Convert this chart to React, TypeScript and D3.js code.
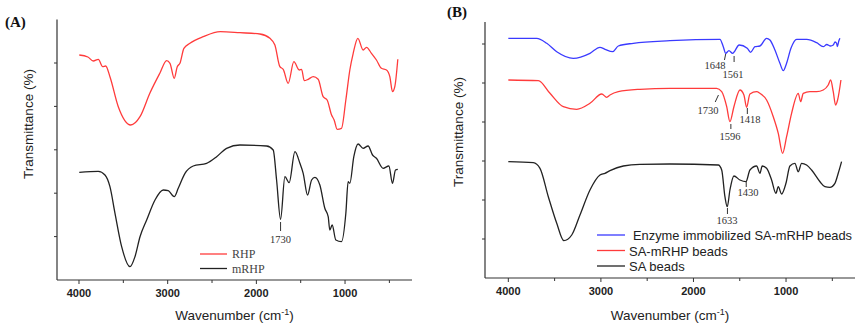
import React from "react";
import * as d3 from "d3";

// ---------- Panel A data (wavenumber, relative transmittance) ----------
const rhpWn = [3997, 3900, 3839, 3782, 3733, 3699, 3651, 3557, 3417, 3312, 3200, 3087, 3012, 2974, 2926, 2892, 2862, 2817, 2749, 2599, 2406, 2185, 1960, 1847, 1791, 1735, 1697, 1641, 1577, 1517, 1490, 1460, 1416, 1359, 1303, 1247, 1202, 1152, 1123, 1089, 1040, 991, 946, 908, 856, 796, 758, 702, 646, 590, 533, 495, 465, 439, 405];
const rhpT = [225, 223, 219, 220.7, 213.3, 214, 203.3, 173.3, 155, 163.3, 187, 207, 219.3, 216.7, 201.7, 213.3, 216.7, 231.7, 236.7, 243.3, 248.3, 247.3, 246, 241.7, 235, 213.3, 210.7, 196.7, 218.3, 210, 210.7, 199.3, 200.7, 203.3, 200.7, 183.3, 180, 165, 160, 150.7, 151.7, 180, 210, 226.7, 241.7, 230, 232.7, 226.7, 220, 211.7, 210, 203.3, 188.3, 193.3, 220.7];

const mrhpWn = [3997, 3782, 3707, 3651, 3594, 3519, 3425, 3369, 3312, 3237, 3143, 3050, 2994, 2926, 2881, 2805, 2712, 2561, 2448, 2336, 2185, 1885, 1810, 1772, 1727, 1678, 1630, 1565, 1509, 1472, 1423, 1377, 1340, 1284, 1228, 1190, 1172, 1145, 1104, 1040, 991, 965, 946, 901, 853, 796, 740, 690, 646, 570, 506, 465, 431, 405];
const mrhpT = [107.7, 108.7, 105, 93.3, 66.7, 33.3, 13.3, 23.3, 43.3, 60, 80, 90, 89.3, 83.3, 91.7, 106.7, 114, 116.7, 123.3, 131.7, 135, 134, 130, 100, 60.7, 103.3, 97.3, 128.3, 116.7, 106.7, 85, 100, 102.7, 95, 71.7, 63.3, 50, 55, 40, 38.3, 66.7, 98.3, 96.7, 123.3, 136, 131.7, 134, 125, 121.7, 111.7, 114, 96.7, 110, 110.7];

// ---------- Panel B data ----------
const enzWn = [4000, 3693, 3585, 3477, 3298, 3118, 3010, 2956, 2873, 2812, 2650, 2254, 1714, 1678, 1652, 1617, 1577, 1506, 1419, 1383, 1336, 1282, 1210, 1174, 1120, 1066, 1030, 994, 947, 885, 777, 669, 598, 560, 520, 490, 470, 454, 445, 430, 418];
const enzT = [239.7, 239.7, 234.7, 226.3, 219.7, 224.7, 230.7, 228.7, 226.3, 232, 234.7, 237.3, 238.7, 231.3, 224.7, 227.3, 224.7, 233, 229.7, 225.7, 231.3, 232, 239.7, 238, 228, 214.7, 207.3, 214.7, 229.7, 238.7, 238.7, 235.3, 231.3, 233.5, 232, 233, 236, 234.7, 231.5, 237, 239.7];

const samWn = [4000, 3676, 3550, 3406, 3261, 3118, 2991, 2937, 2902, 2812, 2578, 2254, 1750, 1695, 1641, 1606, 1563, 1498, 1455, 1426, 1390, 1318, 1282, 1210, 1138, 1084, 1037, 994, 940, 868, 842, 814, 742, 669, 598, 544, 518, 490, 465, 443, 407];
const samT = [198, 197.3, 184.7, 171.3, 168.7, 174.7, 184, 180.7, 183, 186.3, 188.7, 189.7, 189.7, 186.3, 171.3, 156.3, 171.3, 188, 183, 170.7, 184, 186.3, 184.7, 178, 161.3, 144.7, 124.7, 141.3, 164.7, 184.7, 176.3, 184.7, 186.3, 186.3, 188, 193, 198, 186.3, 173, 178, 198];

const saWn = [4000, 3730, 3658, 3568, 3477, 3400, 3315, 3226, 3118, 3010, 2956, 2902, 2758, 2578, 2254, 1732, 1695, 1660, 1635, 1606, 1563, 1498, 1433, 1390, 1318, 1282, 1257, 1210, 1156, 1109, 1084, 1048, 1001, 958, 904, 868, 832, 778, 724, 633, 580, 526, 472, 436, 400];
const saT = [116.3, 115.3, 109.7, 81.3, 54.7, 37.3, 43, 63, 88, 103, 104.7, 107.3, 112, 113.7, 114, 113, 108, 81.3, 71.3, 88, 102, 98, 96.3, 108, 112, 104.7, 112, 109.7, 98, 84.7, 91.3, 84, 94.7, 112, 114.7, 106.3, 114.7, 113, 108, 96.3, 91.3, 90.7, 94.7, 104.7, 116.3];

const majorTicks = [4000, 3000, 2000, 1000];
const minorTicks = [3500, 2500, 1500, 500];
const legendA = ["RHP", "mRHP"];
const legendB = ["Enzyme immobilized SA-mRHP beads", "SA-mRHP beads", "SA beads"];

const RED = "#ff3b3b";
const BLACK = "#222";
const BLUE = "#3a3aff";
const AXIS = "#333";

type Ann = { label: string; x1: number; y1: number; x2: number; y2: number; tx: number; ty: number };

function Panel(props: {
  xr: [number, number];
  xd: [number, number];
  yr: [number, number];
  yd: [number, number];
  yTicks: number[];
  series: { wn: number[]; t: number[]; color: string }[];
  children?: React.ReactNode;
  ylabelX: number;
  ylabelY: number;
  xlabelY: number;
}) {
  const x = d3.scaleLinear().domain(props.xd).range(props.xr);
  const y = d3.scaleLinear().domain(props.yd).range(props.yr);
  const line = d3
    .line<[number, number]>()
    .x((d) => x(d[0]))
    .y((d) => y(d[1]))
    .curve(d3.curveMonotoneX);
  const [x0, x1] = props.xr;
  const yb = props.yr[0];
  const yt = props.yr[1];
  return (
    <g>
      {props.series.map((s, i) => (
        <path
          key={i}
          d={line(s.wn.map((w, j) => [w, s.t[j]] as [number, number])) || ""}
          fill="none"
          stroke={s.color}
          strokeWidth={1.3}
          strokeLinejoin="round"
        />
      ))}
      <line x1={x0} x2={x0} y1={yt} y2={yb} stroke={AXIS} strokeWidth={1.2} />
      <line x1={x0} x2={x1} y1={yb} y2={yb} stroke={AXIS} strokeWidth={1.2} />
      {props.yTicks.map((v) => (
        <line key={v} x1={x0 - 3} x2={x0} y1={y(v)} y2={y(v)} stroke={AXIS} strokeWidth={1} />
      ))}
      {majorTicks.map((v) => (
        <g key={v}>
          <line x1={x(v)} x2={x(v)} y1={yb} y2={yb + 4} stroke={AXIS} strokeWidth={1} />
          <text
            x={x(v)}
            y={yb + 17}
            textAnchor="middle"
            fontFamily="'Liberation Sans', Arial, sans-serif"
            fontWeight="bold"
            fontSize={11}
            fill="#222"
          >
            {v}
          </text>
        </g>
      ))}
      {minorTicks.map((v) => (
        <line key={v} x1={x(v)} x2={x(v)} y1={yb} y2={yb + 3} stroke={AXIS} strokeWidth={1} />
      ))}
      <text
        x={(x0 + x1) / 2}
        y={props.xlabelY}
        textAnchor="middle"
        fontFamily="'Liberation Sans', Arial, sans-serif"
        fontSize={13.5}
        fill="#222"
      >
        Wavenumber (cm
        <tspan dy={-5} fontSize={9}>
          -1
        </tspan>
        <tspan dy={5}>)</tspan>
      </text>
      <text
        transform={`translate(${props.ylabelX},${props.ylabelY}) rotate(-90)`}
        textAnchor="middle"
        fontFamily="'Liberation Sans', Arial, sans-serif"
        fontSize={13.5}
        fill="#222"
      >
        Transmittance (%)
      </text>
      {props.children}
    </g>
  );
}

function Annot({ a }: { a: Ann }) {
  return (
    <g>
      <line x1={a.x1} y1={a.y1} x2={a.x2} y2={a.y2} stroke="#333" strokeWidth={1} />
      <text
        x={a.tx}
        y={a.ty}
        textAnchor="middle"
        fontFamily="'Liberation Serif', 'Times New Roman', serif"
        fontSize={10.5}
        fill="#333"
      >
        {a.label}
      </text>
    </g>
  );
}

export default function App() {
  const xdA: [number, number] = [4248, 245];
  const xrA: [number, number] = [57, 412];
  const xdB: [number, number] = [4252, 255];
  const xrB: [number, number] = [485, 855];
  const xA = d3.scaleLinear().domain(xdA).range(xrA);
  const xB = d3.scaleLinear().domain(xdB).range(xrB);
  const yTicksA = [1, 2, 3, 4, 5].map((k) => k * 43.4);
  const yTicksB = [1, 2, 3, 4, 5, 6].map((k) => k * 39);

  const annB: Ann[] = [
    { label: "1648", x1: xB(1652), y1: 54, x2: xB(1665), y2: 60, tx: 715, ty: 69 },
    { label: "1561", x1: xB(1561), y1: 56, x2: xB(1561), y2: 62, tx: 733, ty: 78 },
    { label: "1730", x1: xB(1730), y1: 95, x2: xB(1765), y2: 102, tx: 708, ty: 114 },
    { label: "1596", x1: xB(1596), y1: 124, x2: xB(1596), y2: 129, tx: 730, ty: 140 },
    { label: "1418", x1: xB(1418), y1: 108, x2: xB(1418), y2: 114, tx: 750, ty: 123 },
    { label: "1633", x1: xB(1633), y1: 208, x2: xB(1633), y2: 214, tx: 727, ty: 224 },
    { label: "1430", x1: xB(1430), y1: 181, x2: xB(1430), y2: 187, tx: 748, ty: 196 },
  ];
  const annA: Ann[] = [
    { label: "1730", x1: xA(1727), y1: 222, x2: xA(1727), y2: 231, tx: xA(1727), ty: 243 },
  ];

  const legColorsA = [RED, BLACK];
  const legColorsB = [BLUE, RED, BLACK];
  const legXB = [633, 629, 629];

  return (
    <div style={{ position: "absolute", left: 0, top: 0 }}>
      <svg width={857} height={323} style={{ display: "block", background: "#fff" }}>
        <text x={5} y={27} fontFamily="'Liberation Serif', 'Times New Roman', serif" fontWeight="bold" fontSize={15} fill="#111">
          (A)
        </text>
        <text x={447} y={17} fontFamily="'Liberation Serif', 'Times New Roman', serif" fontWeight="bold" fontSize={15} fill="#111">
          (B)
        </text>
        <Panel
          xr={xrA}
          xd={xdA}
          yr={[280, 19.5]}
          yd={[0, 260.5]}
          yTicks={yTicksA}
          series={[
            { wn: rhpWn, t: rhpT, color: RED },
            { wn: mrhpWn, t: mrhpT, color: BLACK },
          ]}
          ylabelX={33}
          ylabelY={124}
          xlabelY={320}
        >
          {annA.map((a) => (
            <Annot key={a.label} a={a} />
          ))}
          {legendA.map((l, i) => (
            <g key={l}>
              <line x1={200} x2={227} y1={254 + i * 14.5} y2={254 + i * 14.5} stroke={legColorsA[i]} strokeWidth={1.3} />
              <text
                x={232}
                y={258 + i * 14.5}
                fontFamily="'Liberation Serif', 'Times New Roman', serif"
                fontSize={12}
                fill="#444"
              >
                {l}
              </text>
            </g>
          ))}
        </Panel>
        <Panel
          xr={xrB}
          xd={xdB}
          yr={[278, 22]}
          yd={[0, 256]}
          yTicks={yTicksB}
          series={[
            { wn: enzWn, t: enzT, color: BLUE },
            { wn: samWn, t: samT, color: RED },
            { wn: saWn, t: saT, color: BLACK },
          ]}
          ylabelX={463}
          ylabelY={132}
          xlabelY={320}
        >
          {annB.map((a) => (
            <Annot key={a.label} a={a} />
          ))}
          {legendB.map((l, i) => (
            <g key={l}>
              <line x1={597} x2={625} y1={235 + i * 15.5} y2={235 + i * 15.5} stroke={legColorsB[i]} strokeWidth={1.3} />
              <text
                x={legXB[i]}
                y={240 + i * 15.5}
                fontFamily="'Liberation Sans', Arial, sans-serif"
                fontSize={13}
                fill="#222"
                textLength={i === 0 ? 219 : undefined}
                lengthAdjust="spacingAndGlyphs"
              >
                {l}
              </text>
            </g>
          ))}
        </Panel>
      </svg>
    </div>
  );
}
